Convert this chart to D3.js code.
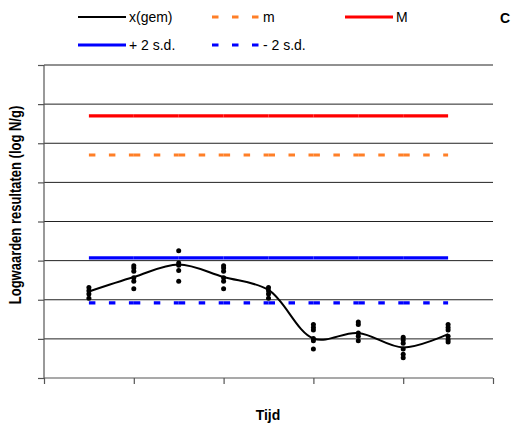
<!DOCTYPE html>
<html><head><meta charset="utf-8">
<script src="https://cdn.jsdelivr.net/npm/d3@7"></script>
<style>body{margin:0;background:#fff}svg{display:block;font-family:"Liberation Sans",Arial,sans-serif}</style>
</head><body>
<svg id="c" width="515" height="434"></svg>
<script>
const times = [1,2,3,4,5,6,7,8,9];
const meanValues = [2.21,2.58,2.90,2.58,2.25,1.01,1.15,0.78,1.12];
const replicateValues = [
  [2.31,2.23,2.15,2.04],
  [2.87,2.81,2.73,2.56,2.47,2.28],
  [3.25,2.94,2.88,2.75,2.47],
  [2.87,2.81,2.73,2.56,2.47,2.28],
  [2.31,2.23,2.15,2.04],
  [1.37,1.29,1.23,1.01,0.95,0.74],
  [1.43,1.37,1.15,1.07,0.95],
  [1.04,0.97,0.89,0.74,0.61,0.52],
  [1.37,1.29,1.23,1.07,0.98,0.92]
];
const mValue = 5.70;
const MValue = 6.70;
const plus2sd = 3.07;
const minus2sd = 1.92;
const yTicks = [0,1,2,3,4,5,6,7,8];
const xTicks = [0,2,4,6,8,10];
const legendLabels = ["x(gem)","m","M","+ 2 s.d.","- 2 s.d."];

const svg = d3.select("#c");
const x = d3.scaleLinear().domain([0,10]).range([44,493]);
const y = d3.scaleLinear().domain([0,8]).range([378,65]);

// gridlines
svg.append("g").selectAll("line").data(yTicks.filter(d=>d>0)).join("line")
  .attr("x1",44).attr("x2",493).attr("y1",d=>y(d)).attr("y2",d=>y(d))
  .attr("stroke","#222").attr("stroke-width",1);

// axes
const ya = svg.append("g").attr("transform","translate(44,0)")
  .call(d3.axisLeft(y).tickValues(yTicks).tickSize(6).tickFormat(""));
const xa = svg.append("g").attr("transform","translate(0,378)")
  .call(d3.axisBottom(x).tickValues(xTicks).tickSize(6).tickFormat(""));
[ya,xa].forEach(a=>{a.selectAll("path,line").attr("stroke","#555").attr("stroke-width",1.2);});
ya.select("path").attr("d","M0,378V65");
xa.select("path").attr("d","M44,0H493");

// horizontal reference lines
function flatLine(v,color,dashed){
  const g = svg.append("g");
  for(let i=0;i<times.length-1;i++){
    const l = g.append("line")
      .attr("x1",x(times[i])).attr("x2",x(times[i+1]))
      .attr("y1",y(v)).attr("y2",y(v))
      .attr("stroke",color).attr("stroke-width",3.2);
    if(dashed) l.attr("stroke-dasharray","6.5,13.5");
  }
}
flatLine(MValue,"#ff0000",false);
flatLine(mValue,"#ff7f27",true);
flatLine(plus2sd,"#0000ff",false);
flatLine(minus2sd,"#0000ff",true);

// replicate dots
const dots = [];
replicateValues.forEach((arr,i)=>arr.forEach(v=>dots.push({t:times[i],v})));
svg.append("g").selectAll("circle").data(dots).join("circle")
  .attr("cx",d=>x(d.t)).attr("cy",d=>y(d.v)).attr("r",2.5).attr("fill","#000");

// mean smooth line
const line = d3.line().x((d,i)=>x(times[i])).y(d=>y(d)).curve(d3.curveCatmullRom.alpha(0.5));
svg.append("path").attr("d",line(meanValues)).attr("fill","none")
  .attr("stroke","#000").attr("stroke-width",2);

// legend
const leg = [
  {lx:78,ly:17,color:"#000",dash:null,w:2,label:legendLabels[0]},
  {lx:212,ly:17,color:"#ff7f27",dash:"6.5,13.5",w:3.2,label:legendLabels[1]},
  {lx:345,ly:17,color:"#ff0000",dash:null,w:3.2,label:legendLabels[2]},
  {lx:78,ly:45,color:"#0000ff",dash:null,w:3.2,label:legendLabels[3]},
  {lx:212,ly:45,color:"#0000ff",dash:"6.5,13.5",w:3.2,label:legendLabels[4]}
];
leg.forEach(d=>{
  const l = svg.append("line").attr("x1",d.lx).attr("x2",d.lx+48).attr("y1",d.ly).attr("y2",d.ly)
    .attr("stroke",d.color).attr("stroke-width",d.w);
  if(d.dash) l.attr("stroke-dasharray",d.dash);
  svg.append("text").attr("transform",`translate(${d.lx+51},${d.ly+5}) scale(1,1.1)`)
    .attr("font-size",14).attr("fill","#000").text(d.label);
});
svg.append("text").attr("transform","translate(500,23) scale(1,1.1)").attr("font-size",14).attr("font-weight","bold").text("C");

// axis titles
svg.append("text").attr("transform","translate(21,205) rotate(-90) scale(1,1.3)").attr("text-anchor","middle")
  .attr("font-size",13).attr("font-weight","bold").text("Logwaarden resultaten (log N/g)");
svg.append("text").attr("x",268).attr("y",420).attr("text-anchor","middle")
  .attr("font-size",14).attr("font-weight","bold").text("Tijd");
</script>
</body></html>
